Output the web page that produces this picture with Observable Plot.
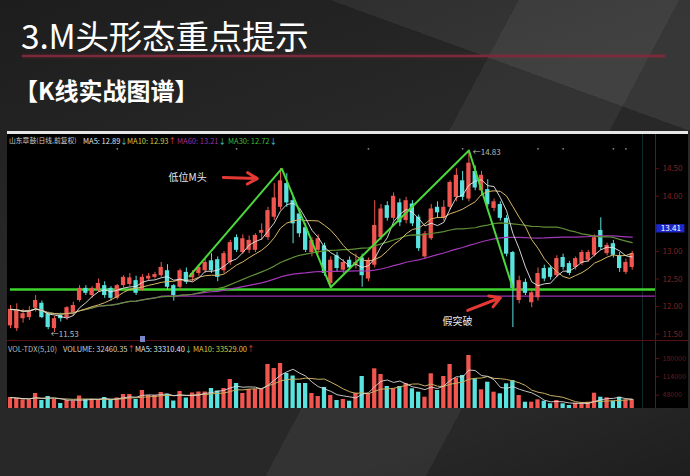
<!DOCTYPE html>
<html><head><meta charset="utf-8">
<script src="https://cdn.jsdelivr.net/npm/d3@7"></script>
<script src="https://cdn.jsdelivr.net/npm/@observablehq/plot@0.6"></script>
<style>
html,body{margin:0;padding:0;}
body{width:690px;height:476px;overflow:hidden;position:relative;background:#262626;font-family:"Noto Sans CJK SC","Noto Sans",sans-serif;}
#bg{position:absolute;left:0;top:0;width:690px;height:476px;background:
 linear-gradient(118deg, rgba(0,0,0,0) 0%, rgba(0,0,0,0) 55%, rgba(255,255,255,0.05) 55%, rgba(255,255,255,0.05) 72%, rgba(0,0,0,0) 72%),
 linear-gradient(160deg, rgba(0,0,0,0.28) 0%, rgba(0,0,0,0) 38%),
 linear-gradient(20deg, rgba(0,0,0,0) 82%, rgba(255,255,255,0.07) 82%),
 linear-gradient(340deg, rgba(0,0,0,0.25) 0%, rgba(0,0,0,0) 18%),
 #282828;}
.title{position:absolute;left:21px;top:14px;font-size:33.5px;color:#fff;line-height:42px;white-space:nowrap;letter-spacing:-0.2px;}
.rule{position:absolute;left:22px;top:55px;width:643px;height:2px;background:#7b2a3c;box-shadow:0 0 3px rgba(170,40,70,0.7);}
.sub{position:absolute;left:14px;top:74px;font-size:24px;font-weight:bold;color:#fff;line-height:32px;white-space:nowrap;}
#chart{position:absolute;left:7px;top:131px;width:681px;height:277px;background:#000;overflow:hidden;}
#chart .topbar{position:absolute;left:0;top:0;width:681px;height:3px;background:#e6e6e6;}
.hd{position:absolute;font-size:7.5px;line-height:9px;white-space:nowrap;}
.vline{position:absolute;top:3px;width:1px;height:274px;}
.hline{position:absolute;left:0;width:681px;height:1px;background:#5a1010;}
#price{position:absolute;left:0;top:4px;}
#vol{position:absolute;left:0;top:221px;}
.icon{position:absolute;left:133px;top:205px;width:5px;height:6px;background:#7b86c8;}
</style></head>
<body>
<div id="bg"></div>
<div class="title">3.M头形态重点提示</div>
<div class="rule"></div>
<div class="sub">【K线实战图谱】</div>
<div id="chart">
  <div class="topbar"></div>
  <div class="vline" style="left:635px;background:#0d2a2a"></div>
  <div class="vline" style="left:648px;background:#6a1414"></div>
  <div class="hline" style="top:209px"></div>
  <div class="hd" style="left:2px;top:5px;color:#cfcfcf;font-size:6.8px">山东章鼓(日线,前复权)</div>
  <div class="hd" style="left:76px;top:5px;color:#e0e0e0">MA5: 12.89<span style="color:#4fd0d0">↓</span></div>
  <div class="hd" style="left:120px;top:5px;color:#d8c840">MA10: 12.93<span style="color:#e04040">↑</span></div>
  <div class="hd" style="left:170px;top:5px;color:#9a2fa0">MA60: 13.21<span style="color:#4fd0d0">↓</span></div>
  <div class="hd" style="left:221px;top:5px;color:#3bbf3b">MA30: 12.72<span style="color:#4fd0d0">↓</span></div>
  <div class="hd" style="left:1px;top:213px;color:#b8b8b8">VOL-TDX(5,10)</div>
  <div class="hd" style="left:56px;top:213px;color:#cfcfcf">VOLUME: 32460.35<span style="color:#e04040">↑</span></div>
  <div class="hd" style="left:128px;top:213px;color:#e0e0e0">MA5: 33310.40<span style="color:#4fd0d0">↓</span></div>
  <div class="hd" style="left:186px;top:213px;color:#d8c840">MA10: 33529.00<span style="color:#e04040">↑</span></div>
  <div class="icon"></div>
  <div id="price"></div>
  <div id="vol"></div>
</div>
<script>
// ---- data ----
const open  = [11.65,11.60,11.78,11.80,11.97,12.06,11.87,11.60,11.84,11.80,11.87,12.11,12.33,12.20,12.30,12.38,12.33,12.15,12.38,12.40,
               12.47,12.30,12.50,12.53,12.56,12.65,12.38,12.35,12.62,12.52,12.60,12.65,12.83,12.85,12.65,12.80,13.25,12.98,13.02,13.02,
               13.33,13.25,13.62,13.80,14.23,13.92,13.68,13.43,12.98,13.02,13.10,12.42,12.92,12.66,12.84,12.75,12.88,12.50,12.75,13.25,
               13.83,13.60,13.88,13.56,13.86,13.62,12.90,13.23,13.80,13.60,13.80,13.98,14.28,13.95,14.45,14.10,14.12,13.78,13.85,13.60,
               12.98,12.11,12.44,12.07,12.16,12.69,12.70,12.56,12.89,12.78,12.71,12.78,12.84,12.93,13.38,12.96,13.14,12.92,12.62,12.71];
const high  = [12.02,12.05,11.95,12.00,12.20,12.10,11.90,11.82,11.88,12.00,12.08,12.38,12.38,12.36,12.50,12.45,12.36,12.40,12.56,12.60,
               12.55,12.58,12.60,12.62,12.80,12.76,12.40,12.68,12.70,12.65,12.75,12.85,12.96,12.90,13.00,13.20,13.30,13.30,13.28,13.32,
               13.50,13.80,14.23,14.50,14.41,14.00,13.75,13.50,13.25,13.30,13.15,12.90,12.98,12.85,12.90,12.95,12.95,12.88,13.92,13.85,
               13.90,14.06,13.95,13.98,13.92,13.66,13.36,13.85,13.90,13.92,14.28,14.50,14.45,14.83,14.55,14.45,14.30,13.95,13.90,13.65,
               13.00,12.55,12.50,12.30,12.70,12.75,12.74,12.92,12.95,12.82,12.90,13.02,13.02,13.30,13.61,13.15,13.20,12.98,12.86,13.00];
const low   = [11.60,11.55,11.70,11.75,11.90,11.78,11.58,11.53,11.72,11.75,11.82,12.08,12.20,12.15,12.26,12.15,12.10,12.12,12.34,12.36,
               12.20,12.28,12.46,12.50,12.53,12.30,12.10,12.30,12.40,12.45,12.55,12.60,12.60,12.45,12.60,12.75,12.98,12.95,12.96,12.98,
               13.20,13.20,13.56,13.75,13.80,13.14,13.25,12.98,12.90,12.95,12.55,12.35,12.62,12.60,12.65,12.68,12.35,12.45,12.70,13.20,
               13.55,13.55,13.45,13.50,13.45,13.00,12.85,13.20,13.60,13.55,13.75,13.90,13.92,13.90,14.10,14.00,13.80,13.72,13.55,12.90,
               11.62,12.05,12.20,11.98,12.10,12.45,12.48,12.52,12.66,12.56,12.66,12.74,12.80,12.90,13.02,12.92,12.88,12.62,12.58,12.66];
const close = [11.95,11.93,11.87,11.93,12.11,11.80,11.62,11.78,11.78,11.98,12.02,12.33,12.24,12.33,12.42,12.20,12.15,12.38,12.53,12.52,
               12.24,12.53,12.55,12.58,12.71,12.35,12.20,12.65,12.44,12.60,12.71,12.80,12.65,12.53,12.96,13.16,13.02,13.23,13.20,13.29,
               13.38,13.74,13.97,14.28,13.88,13.50,13.32,13.02,13.20,13.23,12.60,12.84,12.69,12.80,12.70,12.80,12.56,12.84,13.47,13.77,
               13.60,14.00,13.52,13.92,13.50,13.05,13.32,13.77,13.70,13.80,14.25,14.38,13.98,14.60,14.15,14.38,13.85,13.90,13.60,12.95,
               12.33,12.47,12.24,12.25,12.60,12.50,12.53,12.87,12.71,12.60,12.87,12.98,12.98,13.25,13.07,13.11,12.93,12.69,12.80,12.96];
const volume = [39600,36000,31300,31300,54000,28800,43200,32400,18000,28800,27000,45000,32400,32400,32400,39600,32400,37800,50400,50400,
                32400,64800,46800,46800,57600,50400,27000,61200,37800,55800,59400,59400,72000,63000,72000,104400,90000,54000,68400,68400,
                68400,158400,144000,162000,126000,117000,90000,90000,54000,43200,75600,46800,28800,32400,26300,55100,115200,54000,142900,122400,
                79200,70900,79200,90000,70900,58700,40700,124900,64800,115200,158400,109100,118800,190800,106900,67300,94700,58700,52900,88900,
                100800,46800,22700,22700,31300,26300,16900,28800,16900,10800,19100,19100,22700,55100,40700,38500,26300,40700,31300,32460];
const neckline = 12.31;
const mPattern = [{i:28.5,p:12.55},{i:43.2,p:14.50},{i:51,p:12.35},{i:73,p:14.83},{i:80,p:12.33}];
const purpleLine = [{i1:24,i2:102.7,p:12.19}];
const notes = [{i:28.2,p:14.34,t:"低位M头"},{i:71.2,p:11.73,t:"假突破"}];
const arrows = [{i1:33.9,p1:14.34,i2:39.3,p2:14.32},{i1:72.8,p1:11.93,i2:78.0,p2:12.16}];
const extremes = [{i:73.6,p:14.79,t:"←14.83"},{i:6.4,p:11.50,t:"←11.53"}];
const markers = [17,36,57,72,84,88,96,98];
const priceTicks = [11.5,12.0,12.5,13.0,14.0,14.5];
const currentPrice = [{p:13.41,x1:102.9,x2:107.4}];
const volTicks = [48000,114000,180000];

// ---- derived ----
const UP = "#f0564f", DOWN = "#5ae2de";
const candles = close.map((c,i)=>({i, open:open[i], high:high[i], low:low[i], close:c, vol:volume[i], color: c>=open[i]?UP:DOWN}));
function ma(arr,n){return arr.map((_,i)=>d3.mean(arr.slice(Math.max(0,i-n+1),i+1)));}
const m5=ma(close,5), m10=ma(close,10), m30=ma(close,30), m60=ma(close,60);
const maRows = close.map((_,i)=>({i, ma5:m5[i], ma10:m10[i], ma30:m30[i], ma60:m60[i]}));
const v5=ma(volume,5), v10=ma(volume,10);
const vmaRows = volume.map((_,i)=>({i, v5:v5[i], v10:v10[i]}));

const style = {background:"transparent", fontFamily:"'Noto Sans CJK SC', 'Noto Sans', sans-serif", fontSize:"8px", overflow:"visible"};

const price = Plot.plot({
  width:681, height:205, marginLeft:3, marginRight:33, marginTop:15, marginBottom:8,
  x:{domain:[0,99], range:[3,624.7], axis:null},
  y:{domain:[11.53,14.83], range:[197,15], axis:null},
  color:{type:"identity"},
  style,
  marks:[
    Plot.ruleY(purpleLine,{y:"p", x1:"i1", x2:"i2", stroke:"#9b30b0", strokeWidth:1.2}),
    Plot.ruleY([neckline],{stroke:"#3fd42f", strokeWidth:2.5}),
    Plot.ruleX(candles,{x:"i", y1:"low", y2:"high", stroke:"color", strokeWidth:1}),
    Plot.rect(candles,{x1:d=>d.i-0.34, x2:d=>d.i+0.34, y1:"open", y2:"close", fill:"color"}),
    Plot.line(maRows,{x:"i", y:"ma60", stroke:"#a238b8", strokeWidth:1.2}),
    Plot.line(maRows,{x:"i", y:"ma30", stroke:"#5f8f35", strokeWidth:1.2}),
    Plot.line(maRows,{x:"i", y:"ma10", stroke:"#d8b86a", strokeWidth:1}),
    Plot.line(maRows,{x:"i", y:"ma5", stroke:"#e8e8e8", strokeWidth:0.9}),
    Plot.line(mPattern,{x:"i", y:"p", stroke:"#4ad83a", strokeWidth:2}),
    Plot.arrow(arrows,{x1:"i1", y1:"p1", x2:"i2", y2:"p2", stroke:"#e53935", strokeWidth:3, headLength:9}),
    Plot.text(notes,{x:"i", y:"p", text:"t", fill:"#e8e8e8", fontSize:10}),
    Plot.text(extremes,{x:"i", y:"p", text:"t", fill:"#bdbdbd", fontSize:8, textAnchor:"start"}),
    Plot.dot(markers.map(i=>({i, p:14.86})),{x:"i", y:"p", r:0.9, fill:"#8a8a8a"}),
    Plot.axisY({anchor:"right", ticks:priceTicks, tickFormat:d=>d.toFixed(2), tickSize:3, tickPadding:4, stroke:"#5a1414", fill:"#7c2424", fontSize:8}),
    Plot.rect(currentPrice,{x1:"x1", x2:"x2", y1:d=>d.p+0.075, y2:d=>d.p-0.075, fill:"#2026c8"}),
    Plot.text(currentPrice,{x:d=>(d.x1+d.x2)/2, y:"p", text:d=>d.p.toFixed(2), fill:"#ffffff", fontSize:8})
  ]
});
document.getElementById("price").appendChild(price);

const vol = Plot.plot({
  width:681, height:56, marginLeft:3, marginRight:33, marginTop:0, marginBottom:0,
  x:{domain:[0,99], range:[3,624.7], axis:null},
  y:{domain:[0,201600], range:[56,0], axis:null},
  color:{type:"identity"},
  style,
  marks:[
    Plot.rect(candles,{x1:d=>d.i-0.34, x2:d=>d.i+0.34, y1:0, y2:"vol", fill:"color"}),
    Plot.line(vmaRows,{x:"i", y:"v10", stroke:"#c8b060", strokeWidth:1}),
    Plot.line(vmaRows,{x:"i", y:"v5", stroke:"#d8d8d8", strokeWidth:0.9}),
    Plot.axisY({anchor:"right", ticks:volTicks, tickFormat:d3.format("d"), tickSize:3, tickPadding:4, stroke:"#5a1414", fill:"#6a1c1c", fontSize:7})
  ]
});
document.getElementById("vol").appendChild(vol);
</script>
</body></html>
